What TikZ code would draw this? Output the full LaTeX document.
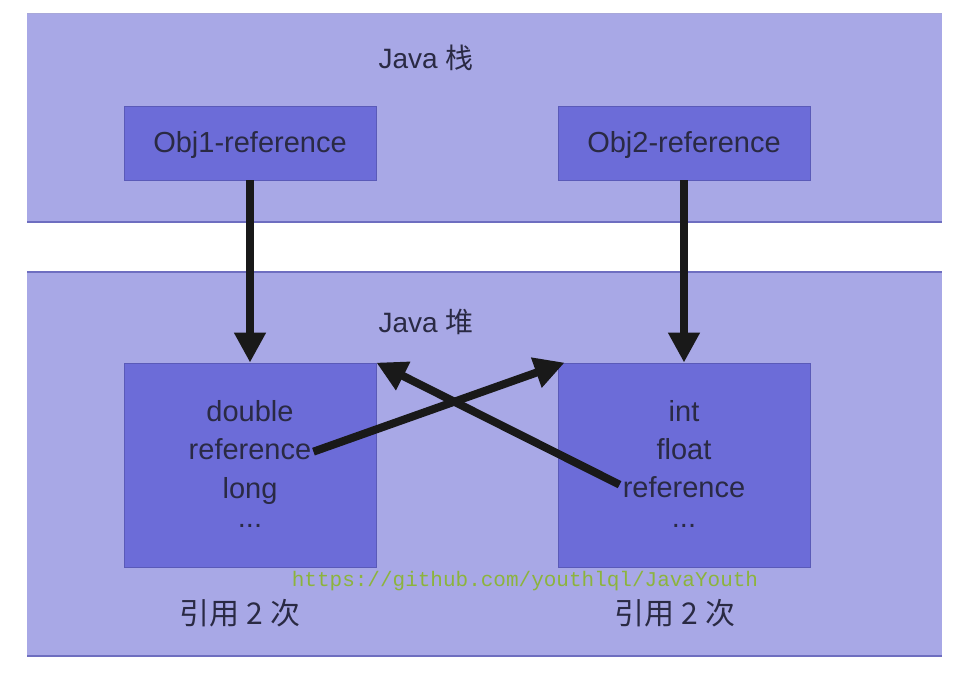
\documentclass[tikz,border=0pt]{standalone}
\usepackage{fontspec}
\setmainfont{Liberation Sans}
\setmonofont{Liberation Mono}
\newfontfamily\cjk{Noto Sans CJK SC}
\usetikzlibrary{arrows.meta}
\definecolor{panelfill}{HTML}{A8A8E6}
\definecolor{panelline}{HTML}{6E6EC0}
\definecolor{boxfill}{HTML}{6C6CD8}
\definecolor{boxline}{HTML}{5A5AB8}
\definecolor{txt}{HTML}{2A2A44}
\definecolor{wm}{HTML}{8CB43C}
\tikzset{
  refbox/.style={draw=boxline, line width=0.8pt, fill=boxfill, minimum width=252pt, minimum height=74pt, inner sep=0pt},
  heapbox/.style={draw=boxline, line width=0.8pt, fill=boxfill, minimum width=252pt, minimum height=204pt, inner sep=0pt},
  boxtext/.style={text=txt, font=\fontsize{29}{34}\selectfont, inner sep=0pt},
  lbl/.style={text=txt, inner sep=0pt},
  bigarrow/.style={line width=8pt, black!90, -{Triangle[length=30pt,width=30pt]}}
}
\begin{document}
\begin{tikzpicture}[x=1pt,y=-1pt]
\fill[white] (0,0) rectangle (956,673);
\useasboundingbox (0,0) rectangle (956,673);
% panels
\fill[panelfill] (27,13) rectangle (942,222);
\draw[panelline, line width=1.5pt] (27,222) -- (942,222);
\draw[panelline!60, line width=0.6pt] (27,13) -- (942,13);
\fill[panelfill] (27,272) rectangle (942,656);
\draw[panelline, line width=1.5pt] (27,272) -- (942,272);
\draw[panelline, line width=2pt] (27,656) -- (942,656);
% titles
\node[lbl, font=\fontsize{28}{32}\selectfont] (stack) at (426,58) {Java {\cjk 栈}};
\node[lbl, font=\fontsize{28}{32}\selectfont] (heap) at (426,322) {Java {\cjk 堆}};
% reference boxes
\node[refbox] (o1) at (250,143) {};
\node[boxtext] (o1t) at (250,145) {Obj1-reference};
\node[refbox] (o2) at (684,143) {};
\node[boxtext] (o2t) at (684,145) {Obj2-reference};
% heap boxes
\node[heapbox] (h1) at (250,465) {};
\node[heapbox] (h2) at (684,465) {};
\node[boxtext, anchor=base] (l1) at (250,421) {double};
\node[boxtext, anchor=base] (l2) at (250,459) {reference};
\node[boxtext, anchor=base] (l3) at (250,498) {long};
\node[boxtext, anchor=base] (l4) at (250,527) {...};
\node[boxtext, anchor=base] (r1) at (684,421) {int};
\node[boxtext, anchor=base] (r2) at (684,459) {float};
\node[boxtext, anchor=base] (r3) at (684,497) {reference};
\node[boxtext, anchor=base] (r4) at (684,527) {...};
% counts
\node[lbl, font=\fontsize{30}{34}\selectfont\cjk] (c1) at (240,613) {引用 2 次};
\node[lbl, font=\fontsize{30}{34}\selectfont\cjk] (c2) at (675,613) {引用 2 次};
% watermark
\node[text=wm, font=\fontsize{21}{24}\selectfont\ttfamily, inner sep=0pt] (wmk) at (525,581) {https://github.com/youthlql/JavaYouth};
% arrows
\draw[bigarrow] (o1.south) -- (h1.north);
\draw[bigarrow] (o2.south) -- (h2.north);
\coordinate (t1) at ([xshift=7pt]h2.north west);
\coordinate (t2) at (h1.north east);
\draw[bigarrow] ([xshift=2pt,yshift=-3pt]l2.east) -- (t1);
\draw[bigarrow] ([xshift=-3pt,yshift=2pt]r3.west) -- (t2);
\end{tikzpicture}
\end{document}
